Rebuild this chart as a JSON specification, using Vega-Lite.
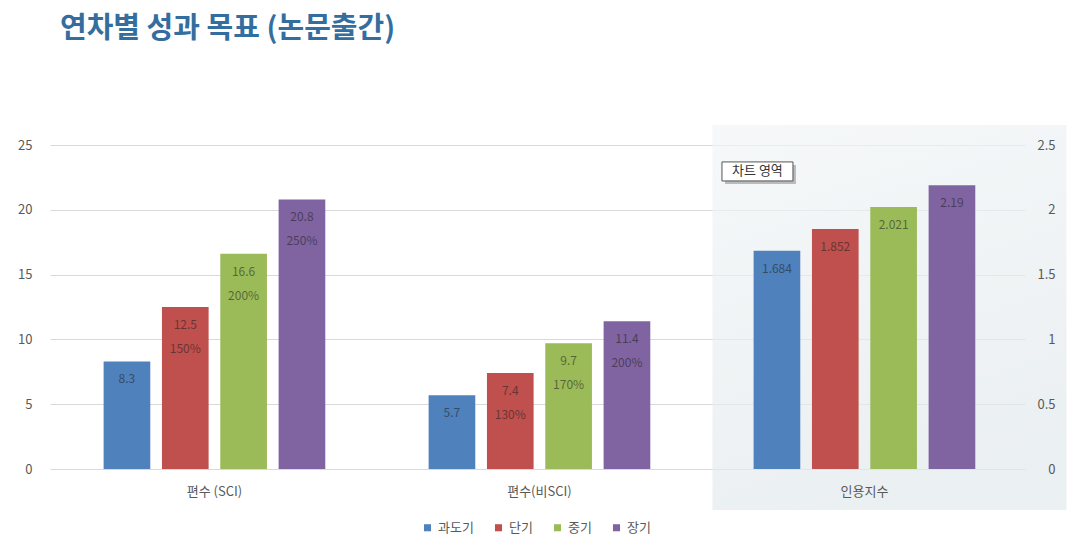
{
  "$schema": "https://vega.github.io/schema/vega-lite/v6.json",
  "autosize": {"type": "none"},
  "width": 975,
  "height": 324,
  "padding": {"left": 50, "top": 145, "right": 59, "bottom": 76},
  "background": "white",
  "config": {"font": "Noto Sans CJK KR", "view": {"stroke": null}},
  "title": {"text": "연차별 성과 목표 (논문출간)", "anchor": "start", "frame": "group", "dx": 10, "offset": 52, "baseline": "bottom", "fontSize": 29, "fontWeight": "bold", "color": "#336e9e"},
  "data": {"values": [
    {"kind": "bar", "metric": "편수 (SCI)", "series": "과도기", "value": 8.3, "pct": null},
    {"kind": "bar", "metric": "편수 (SCI)", "series": "단기", "value": 12.5, "pct": "150%"},
    {"kind": "bar", "metric": "편수 (SCI)", "series": "중기", "value": 16.6, "pct": "200%"},
    {"kind": "bar", "metric": "편수 (SCI)", "series": "장기", "value": 20.8, "pct": "250%"},
    {"kind": "bar", "metric": "편수(비SCI)", "series": "과도기", "value": 5.7, "pct": null},
    {"kind": "bar", "metric": "편수(비SCI)", "series": "단기", "value": 7.4, "pct": "130%"},
    {"kind": "bar", "metric": "편수(비SCI)", "series": "중기", "value": 9.7, "pct": "170%"},
    {"kind": "bar", "metric": "편수(비SCI)", "series": "장기", "value": 11.4, "pct": "200%"},
    {"kind": "bar", "metric": "인용지수", "series": "과도기", "value": 1.684, "pct": null},
    {"kind": "bar", "metric": "인용지수", "series": "단기", "value": 1.852, "pct": null},
    {"kind": "bar", "metric": "인용지수", "series": "중기", "value": 2.021, "pct": null},
    {"kind": "bar", "metric": "인용지수", "series": "장기", "value": 2.19, "pct": null},
    {"kind": "shade", "metric": "인용지수"},
    {"kind": "note", "metric": "인용지수", "series": "과도기", "note": "차트 영역"}
  ]},
  "encoding": {
    "x": {"field": "metric", "type": "nominal", "sort": null,
      "scale": {"domain": ["편수 (SCI)", "편수(비SCI)", "인용지수"], "paddingInner": 0.3, "paddingOuter": 0.15, "align": 0.52},
      "axis": {"title": null, "labelAngle": 0, "domain": false, "ticks": false, "labelPadding": 16, "labelFontSize": 13, "labelColor": "#595959", "zindex": 1}}
  },
  "layer": [
    {
      "transform": [{"filter": "datum.metric !== '인용지수' && datum.kind === 'bar'"}],
      "encoding": {
        "y": {"field": "value", "type": "quantitative", "scale": {"domain": [0, 25]},
          "axis": {"values": [0, 5, 10, 15, 20, 25], "title": null, "domain": false, "ticks": false, "labelPadding": 18, "labelFontSize": 13, "labelColor": "#595959", "gridColor": "#d9d9d9"}}
      },
      "layer": [
        {
          "mark": {"type": "bar"},
          "encoding": {
            "xOffset": {"field": "series", "type": "nominal", "scale": {"domain": ["과도기", "단기", "중기", "장기"], "paddingInner": 0.2, "paddingOuter": 0.05}},
            "color": {"field": "series", "type": "nominal", "scale": {"domain": ["과도기", "단기", "중기", "장기"], "range": ["#4f81bd", "#c0504d", "#9bbb59", "#8064a2"]},
              "legend": {"title": null, "orient": "none", "legendX": 371, "legendY": 376, "direction": "horizontal", "symbolType": "square", "symbolSize": 50, "symbolStrokeWidth": 0, "labelFontSize": 13, "labelColor": "#595959", "columnPadding": 18, "labelOffset": 4}}
          }
        },
        {
          "mark": {"type": "text", "dy": 18, "fontSize": 12, "fill": "#1f1f1f", "opacity": 0.55},
          "encoding": {
            "xOffset": {"field": "series", "type": "nominal"},
            "text": {"field": "value", "type": "nominal"}
          }
        },
        {
          "transform": [{"filter": "datum.pct != null"}],
          "mark": {"type": "text", "dy": 42, "fontSize": 12, "fill": "#1f1f1f", "opacity": 0.55},
          "encoding": {
            "xOffset": {"field": "series", "type": "nominal"},
            "text": {"field": "pct", "type": "nominal"}
          }
        }
      ]
    },
    {
      "transform": [{"filter": "datum.metric === '인용지수'"}],
      "layer": [
        {
          "transform": [{"filter": "datum.kind === 'shade'"}],
          "mark": {"type": "rect", "width": 354, "xOffset": 25, "opacity": 0.7, "invalid": null,
            "fill": {"gradient": "linear", "x1": 0, "y1": 0, "x2": 0.3, "y2": 1, "stops": [{"offset": 0, "color": "#f2f5f7"}, {"offset": 1, "color": "#e2e9ec"}]}},
          "encoding": {
            "y": {"datum": 2.654, "type": "quantitative", "scale": {"domain": [0, 2.5], "nice": false, "zero": true}},
            "y2": {"datum": -0.316}
          }
        },
        {
          "transform": [{"filter": "datum.kind === 'bar'"}],
          "mark": {"type": "bar"},
          "encoding": {
            "y": {"field": "value", "type": "quantitative", "scale": {"domain": [0, 2.5], "nice": false},
              "axis": {"orient": "right", "values": [0, 0.5, 1, 1.5, 2, 2.5], "format": "~g", "title": null, "grid": false, "domain": false, "ticks": false, "labelAlign": "right", "labelPadding": 30, "labelFontSize": 13, "labelColor": "#595959", "zindex": 1}},
            "xOffset": {"field": "series", "type": "nominal"},
            "color": {"field": "series", "type": "nominal"}
          }
        },
        {
          "transform": [{"filter": "datum.kind === 'bar'"}],
          "mark": {"type": "text", "dy": 18, "fontSize": 12, "fill": "#1f1f1f", "opacity": 0.55},
          "encoding": {
            "y": {"field": "value", "type": "quantitative", "scale": {"domain": [0, 2.5], "nice": false}},
            "xOffset": {"field": "series", "type": "nominal"},
            "text": {"field": "value", "type": "nominal"}
          }
        },
        {
          "transform": [{"filter": "datum.kind === 'note'"}],
          "mark": {"type": "point", "invalid": null, "shape": "M-1.464,-0.183L0.536,-0.183L0.536,0.353L-1.464,0.353Z", "size": 5041, "filled": true, "fill": "#8a8a8a", "opacity": 0.55, "strokeWidth": 0},
          "encoding": {"xOffset": {"field": "series", "type": "nominal"}, "y": {"datum": 2.296, "type": "quantitative", "scale": {"domain": [0, 2.5], "nice": false}}}
        },
        {
          "transform": [{"filter": "datum.kind === 'note'"}],
          "mark": {"type": "point", "invalid": null, "shape": "M-1.549,-0.268L0.451,-0.268L0.451,0.268L-1.549,0.268Z", "size": 5041, "filled": true, "fill": "white", "stroke": "#555555", "strokeWidth": 1, "opacity": 1},
          "encoding": {"xOffset": {"field": "series", "type": "nominal"}, "y": {"datum": 2.296, "type": "quantitative", "scale": {"domain": [0, 2.5], "nice": false}}}
        },
        {
          "transform": [{"filter": "datum.kind === 'note'"}],
          "mark": {"type": "text", "invalid": null, "dx": -19.5, "fontSize": 13, "fill": "#333333"},
          "encoding": {"xOffset": {"field": "series", "type": "nominal"}, "y": {"datum": 2.296, "type": "quantitative", "scale": {"domain": [0, 2.5], "nice": false}}, "text": {"field": "note", "type": "nominal"}}
        }
      ]
    }
  ],
  "resolve": {"scale": {"y": "independent"}}
}
